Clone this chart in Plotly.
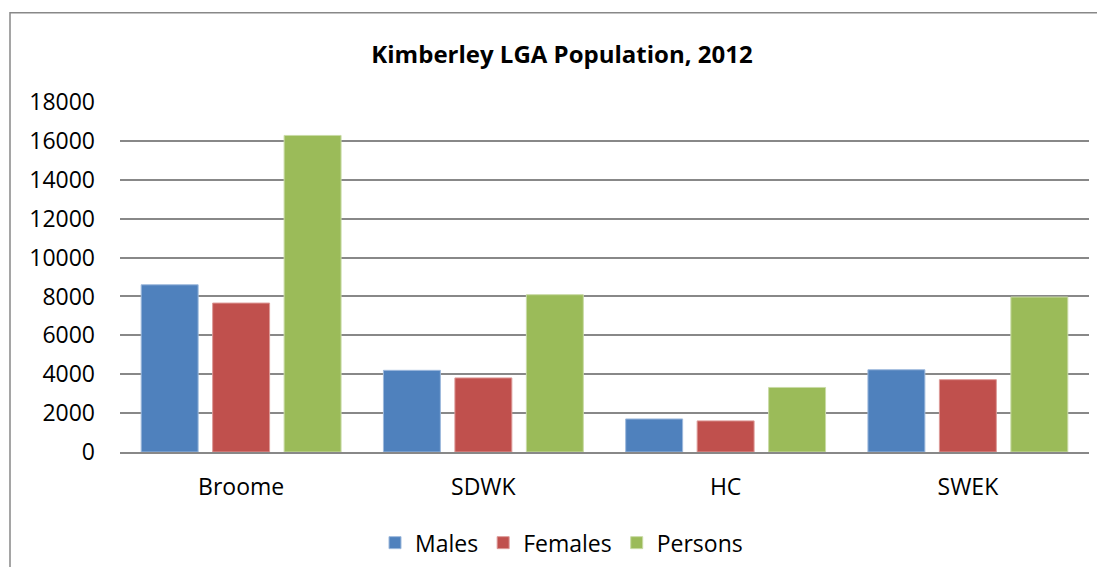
import plotly.graph_objects as go

categories = ["Broome", "SDWK", "HC", "SWEK"]
males = [8600, 4200, 1700, 4230]
females = [7660, 3810, 1600, 3720]
persons = [16280, 8090, 3320, 7970]
y_ticks = [0, 2000, 4000, 6000, 8000, 10000, 12000, 14000, 16000, 18000]

# page has an 8px body margin on every side; figure coordinates = page coordinates - 8
OFF = 8
W, H = 1105 - 2 * OFF, 575 - 2 * OFF
L, R = 120 - OFF, W - (1089 - OFF)
T, B = 102.3 - OFF, H - (452.3 - OFF)
FONT = "Open Sans"
FS = 23

fig = go.Figure()
series = [("Males", males, "#4F81BD", "#9DB9DC"),
          ("Females", females, "#C0504D", "#DD9A98"),
          ("Persons", persons, "#9BBB59", "#C9DBA6")]
for name, vals, col, edge in series:
    fig.add_trace(go.Bar(name=name, x=categories, y=vals,
                         marker=dict(color=col, line=dict(color=edge, width=1))))

pw = W - L - R
ph = H - T - B
def px_x(p):
    return (p - OFF - L) / pw
def px_y(p):
    return (H - B - (p - OFF)) / ph

fig.update_layout(
    width=W, height=H,
    margin=dict(l=L, r=R, t=T, b=B, autoexpand=False),
    paper_bgcolor="white", plot_bgcolor="white",
    barmode="group", bargap=0.115, bargroupgap=0.203,
    font=dict(family=FONT, size=FS, color="black"),
    title=dict(text="<b>Kimberley LGA Population, 2012</b>", x=(562 - OFF)/W, xanchor="center",
               y=1 - (55 - OFF)/H, yanchor="middle", font=dict(family=FONT, size=24, color="black")),
    showlegend=True,
    legend=dict(orientation="h", x=px_x(375), xanchor="left", y=px_y(543), yanchor="middle",
                font=dict(family=FONT, size=FS, color="black"), bgcolor="rgba(0,0,0,0)",
                traceorder="normal"),
    xaxis=dict(showgrid=False, showline=True, linecolor="#888888", linewidth=1.5,
               ticks="", ticklabelstandoff=14, tickfont=dict(size=FS)),
    yaxis=dict(range=[0, 18000], tickvals=y_ticks, tickformat="d", showgrid=True, gridcolor="#888888",
               gridwidth=1.5, zeroline=False, showline=False, ticks="",
               ticklabelstandoff=24, tickfont=dict(size=FS)),
    shapes=[dict(type="rect", xref="paper", yref="paper",
                 x0=px_x(10), x1=px_x(1300), y0=px_y(800), y1=px_y(13),
                 line=dict(color="#888888", width=1.5), fillcolor="rgba(0,0,0,0)", layer="below")],
)

fig.write_html("out.html")
